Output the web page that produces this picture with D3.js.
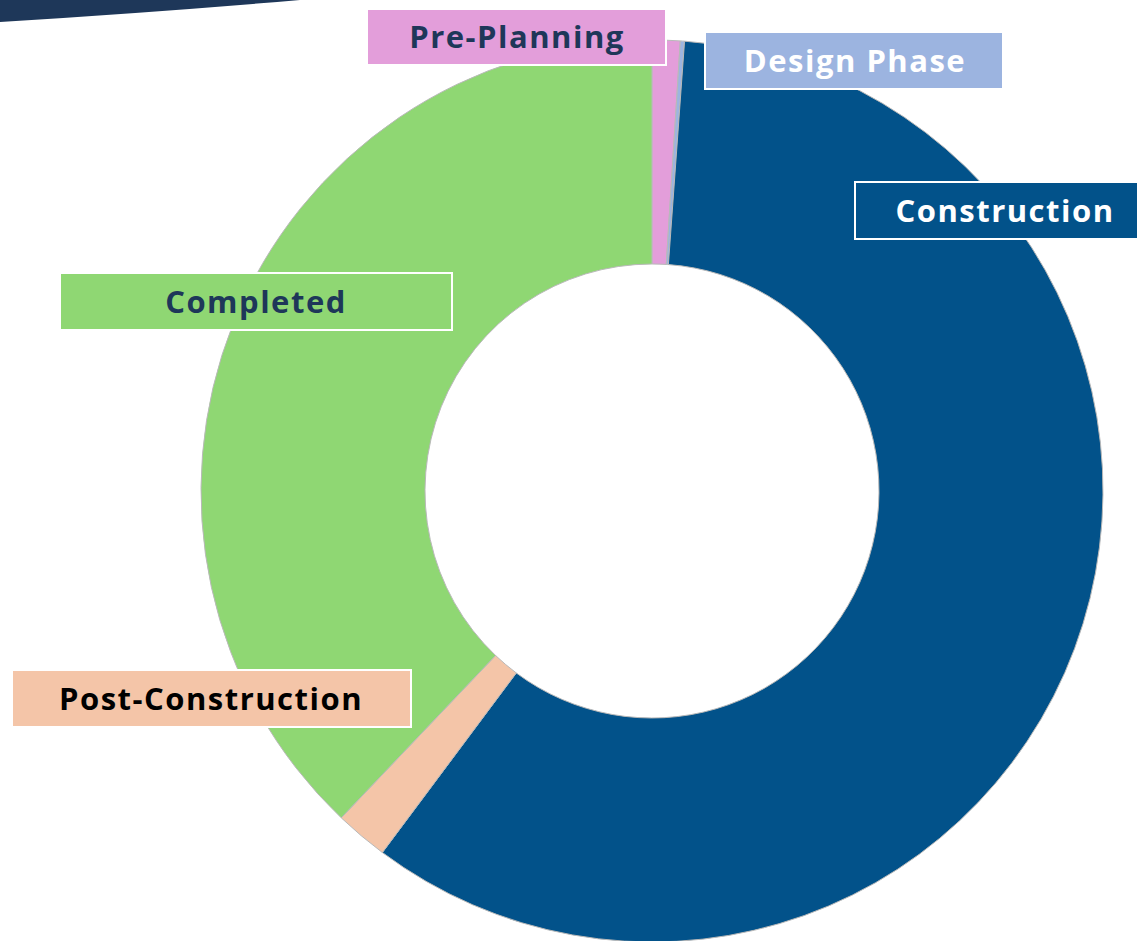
<!DOCTYPE html>
<html>
<head>
<meta charset="utf-8">
<script src="https://cdn.jsdelivr.net/npm/d3@7"></script>
<style>
  html, body { margin: 0; padding: 0; background: #fff; overflow: hidden; }
  svg { display: block; }
  .lbl { font-family: "Open Sans", "DejaVu Sans", sans-serif; font-weight: 700; }
</style>
</head>
<body>
<svg></svg>
<script>
var svg = d3.select("svg");
var width = 1137;
var height = 941;

// project stage shares (percent), clockwise from 12 o'clock
var stages = ["Pre-Planning", "Design Phase", "Construction", "Post-Construction", "Completed"];
var shares = [1.0, 0.15, 59.05, 1.9, 37.9];
var fills = ["#E39EDA", "#9CB4E0", "#02528A", "#F4C5A8", "#8FD773"];
var textColors = ["#1E3759", "#ffffff", "#ffffff", "#000000", "#1E3759"];

// where each stage's label box sits (left, top, width, height)
var boxes = {
  "Pre-Planning":      [367, 9, 299, 56],
  "Design Phase":      [705, 32, 298, 57],
  "Construction":      [855, 182, 290, 57],
  "Post-Construction": [12, 670, 399, 57],
  "Completed":         [60, 273, 392, 57]
};
var textCenters = {
  "Pre-Planning": 517,
  "Design Phase": 855,
  "Construction": 1005,
  "Post-Construction": 211,
  "Completed": 256
};

var cx = 652, cy = 491;
var outerR = 451, innerR = 227;

svg.attr("width", width).attr("height", height);

// decorative swoosh top-left
svg.append("path")
  .attr("d", "M0,0 L300,0 Q160,12 0,22 Z")
  .attr("fill", "#1E3759");

var pie = d3.pie()
  .sort(null)
  .value(d => d.value);

var arc = d3.arc()
  .innerRadius(innerR)
  .outerRadius(outerR);

var table = stages.map((s, i) => ({name: s, value: shares[i], color: fills[i], text: textColors[i]}));

var g = svg.append("g")
  .attr("transform", "translate(" + cx + "," + cy + ")");

g.selectAll("path.slice")
  .data(pie(table))
  .enter().append("path")
    .attr("class", "slice")
    .attr("d", arc)
    .attr("fill", d => d.data.color)
    .attr("stroke", "#b9b9b9")
    .attr("stroke-width", 1);

// label boxes
var labels = svg.selectAll("g.lbl")
  .data(table)
  .enter().append("g")
    .attr("class", "lbl");

labels.append("rect")
  .attr("x", d => boxes[d.name][0])
  .attr("y", d => boxes[d.name][1])
  .attr("width", d => boxes[d.name][2])
  .attr("height", d => boxes[d.name][3])
  .attr("fill", d => d.color)
  .attr("stroke", "#ffffff")
  .attr("stroke-width", 2);

labels.append("text")
  .attr("x", d => textCenters[d.name])
  .attr("y", d => boxes[d.name][1] + boxes[d.name][3] / 2)
  .attr("dy", "0.36em")
  .attr("text-anchor", "middle")
  .attr("fill", d => d.text)
  .style("font-size", "31px")
  .style("letter-spacing", "1.5px")
  .text(d => d.name);
</script>
</body>
</html>
